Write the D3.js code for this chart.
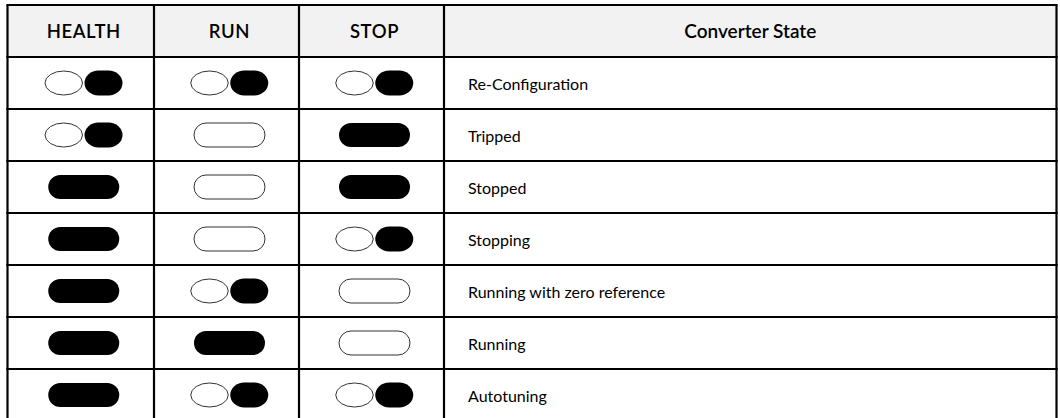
<!DOCTYPE html>
<html>
<head>
<meta charset="utf-8">
<script src="https://cdn.jsdelivr.net/npm/d3@7"></script>
<style>
  html, body { margin: 0; padding: 0; background: #fff; }
  svg { display: block; }
</style>
</head>
<body>
<svg id="chart" width="1060" height="418"></svg>
<script>
// ---- data ----
const headers = ["HEALTH", "RUN", "STOP", "Converter State"];
const states = ["Re-Configuration", "Tripped", "Stopped", "Stopping",
                "Running with zero reference", "Running", "Autotuning"];
const health = ["flash", "flash", "on", "on", "on", "on", "on"];
const run    = ["flash", "off", "off", "off", "flash", "on", "flash"];
const stop   = ["flash", "on", "on", "flash", "off", "off", "flash"];

// ---- layout ----
const tblLeft = 7.5, tblRight = 1056.5, tblTop = 5, rowH = 52;
const colEdges = [tblLeft, 154, 299, 444, tblRight];
const nRows = states.length + 1;

const svg = d3.select("#chart");
const y = d3.scaleBand().domain(d3.range(nRows)).range([tblTop, tblTop + rowH * nRows]).padding(0);
const colMid = i => (colEdges[i] + colEdges[i + 1]) / 2;

// header background
svg.append("rect")
  .attr("x", tblLeft).attr("y", y(0))
  .attr("width", tblRight - tblLeft).attr("height", y.bandwidth())
  .attr("fill", "#f2f2f2");

// header text
svg.selectAll("text.hdr").data(headers).join("text")
  .attr("class", "hdr")
  .attr("x", (d, i) => colMid(i) + (i < 3 ? 3 : 0))
  .attr("y", y(0) + y.bandwidth() / 2)
  .attr("dy", "0.36em")
  .attr("text-anchor", "middle")
  .attr("font-family", "Lato, 'Open Sans', sans-serif")
  .attr("font-weight", 600)
  .attr("font-size", d => d === d.toUpperCase() ? 18.5 : 19)
  .attr("letter-spacing", d => d === d.toUpperCase() ? 0.6 : 0)
  .attr("fill", "#000")
  .text(d => d);

// state text
svg.selectAll("text.state").data(states).join("text")
  .attr("class", "state")
  .attr("x", colEdges[3] + 24)
  .attr("y", (d, i) => y(i + 1) + y.bandwidth() / 2 + 1)
  .attr("dy", "0.36em")
  .attr("font-family", "Lato, 'Open Sans', sans-serif")
  .attr("font-size", 16)
  .attr("fill", "#000")
  .text(d => d);

// LED indicators
const ledCols = [health, run, stop];
const pillW = 71, pillH = 24, halfW = 37.5, gap = 1.5;
ledCols.forEach((arr, ci) => {
  const cx = colMid(ci) + 3;
  arr.forEach((st, ri) => {
    const cy = y(ri + 1) + y.bandwidth() / 2;
    const g = svg.append("g");
    if (st === "on" || st === "off") {
      g.append("rect")
        .attr("x", cx - pillW / 2).attr("y", cy - pillH / 2)
        .attr("width", pillW).attr("height", pillH)
        .attr("rx", pillH / 2).attr("ry", pillH / 2)
        .attr("fill", st === "on" ? "#000" : "#fff")
        .attr("stroke", st === "on" ? "#000" : "#333")
        .attr("stroke-width", st === "on" ? 0 : 1);
    } else {
      const x0 = cx - halfW - gap / 2;
      g.append("rect")
        .attr("x", x0 - 0.5).attr("y", cy - pillH / 2)
        .attr("width", halfW).attr("height", pillH)
        .attr("rx", halfW / 2).attr("ry", pillH / 2)
        .attr("fill", "#fff").attr("stroke", "#333").attr("stroke-width", 1);
      g.append("rect")
        .attr("x", cx + gap / 2).attr("y", cy - pillH / 2 - 0.5)
        .attr("width", halfW + 0.5).attr("height", pillH + 1)
        .attr("rx", 14).attr("ry", (pillH + 1) / 2)
        .attr("fill", "#000");
    }
  });
});

// grid lines
const gridColor = "#000", gw = 2.2;
svg.selectAll("line.h").data(d3.range(nRows + 1)).join("line")
  .attr("class", "h")
  .attr("x1", tblLeft - gw / 2).attr("x2", tblRight + gw / 2)
  .attr("y1", d => tblTop + d * rowH).attr("y2", d => tblTop + d * rowH)
  .attr("stroke", gridColor).attr("stroke-width", gw);
svg.selectAll("line.v").data(colEdges).join("line")
  .attr("class", "v")
  .attr("x1", d => d).attr("x2", d => d)
  .attr("y1", tblTop).attr("y2", tblTop + rowH * nRows)
  .attr("stroke", gridColor).attr("stroke-width", gw);
</script>
</body>
</html>
